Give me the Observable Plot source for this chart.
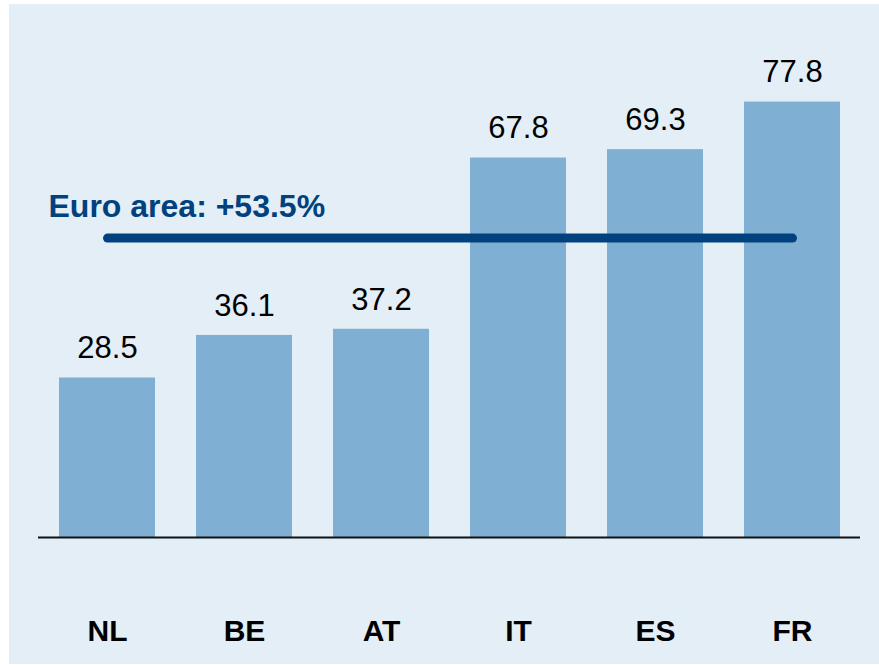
<!DOCTYPE html>
<html>
<head>
<meta charset="utf-8">
<script src="https://cdn.jsdelivr.net/npm/d3@7"></script>
<script src="https://cdn.jsdelivr.net/npm/@observablehq/plot@0.6"></script>
<style>
  html, body { margin: 0; padding: 0; background: #ffffff; }
  #chart { position: absolute; left: 9px; top: 4px; }
  #chart svg { display: block; background: #e3eef6; }
</style>
</head>
<body>
<div id="chart"></div>
<script>
const countries = ["NL", "BE", "AT", "IT", "ES", "FR"];
const values = [28.5, 36.1, 37.2, 67.8, 69.3, 77.8];
const euroAreaValue = 53.5;
const euroAreaLabel = "Euro area: +53.5%";
const euroFrom = "NL";
const euroTo = "FR";

const data = countries.map((c, i) => ({country: c, value: values[i]}));
const euroLine = [{country: euroFrom, value: euroAreaValue}, {country: euroTo, value: euroAreaValue}];

const W = 870, H = 660;
const baseY = 533;
const pxPerUnit = 5.597;

const chart = Plot.plot({
  width: W,
  height: H,
  marginLeft: 29,
  marginRight: 19,
  marginTop: 0,
  marginBottom: H - baseY,
  style: {fontFamily: "Arial, 'Liberation Sans', sans-serif", background: "#e3eef6", color: "black"},
  x: {domain: countries, range: [8.9, 872], paddingInner: 0.3, paddingOuter: 0.3, label: null},
  y: {domain: [0, 80], range: [baseY, baseY - 80 * pxPerUnit], axis: null},
  marks: [
    Plot.barY(data, {x: "country", y: "value", fill: "#7fb0d4"}),
    Plot.ruleY([0], {stroke: "#111111", strokeWidth: 2}),
    Plot.text(data, {x: "country", y: "value", text: d => d.value.toFixed(1), dy: -29.5, fontSize: 31, fill: "#000000"}),
    Plot.line(euroLine, {x: "country", y: "value", stroke: "#00417e", strokeWidth: 9, strokeLinecap: "round"}),
    Plot.text([euroAreaLabel], {frameAnchor: "left", y: [euroAreaValue], text: d => d, dx: 10, dy: -31, textAnchor: "start", fontSize: 32, fontWeight: "bold", fill: "#00417e"}),
    Plot.axisX({tickSize: 0, tickPadding: 82, fontSize: 30, fontWeight: "bold", fill: "#000000", label: null, lineAnchor: "top"})
  ]
});
document.getElementById("chart").appendChild(chart);
</script>
</body>
</html>
